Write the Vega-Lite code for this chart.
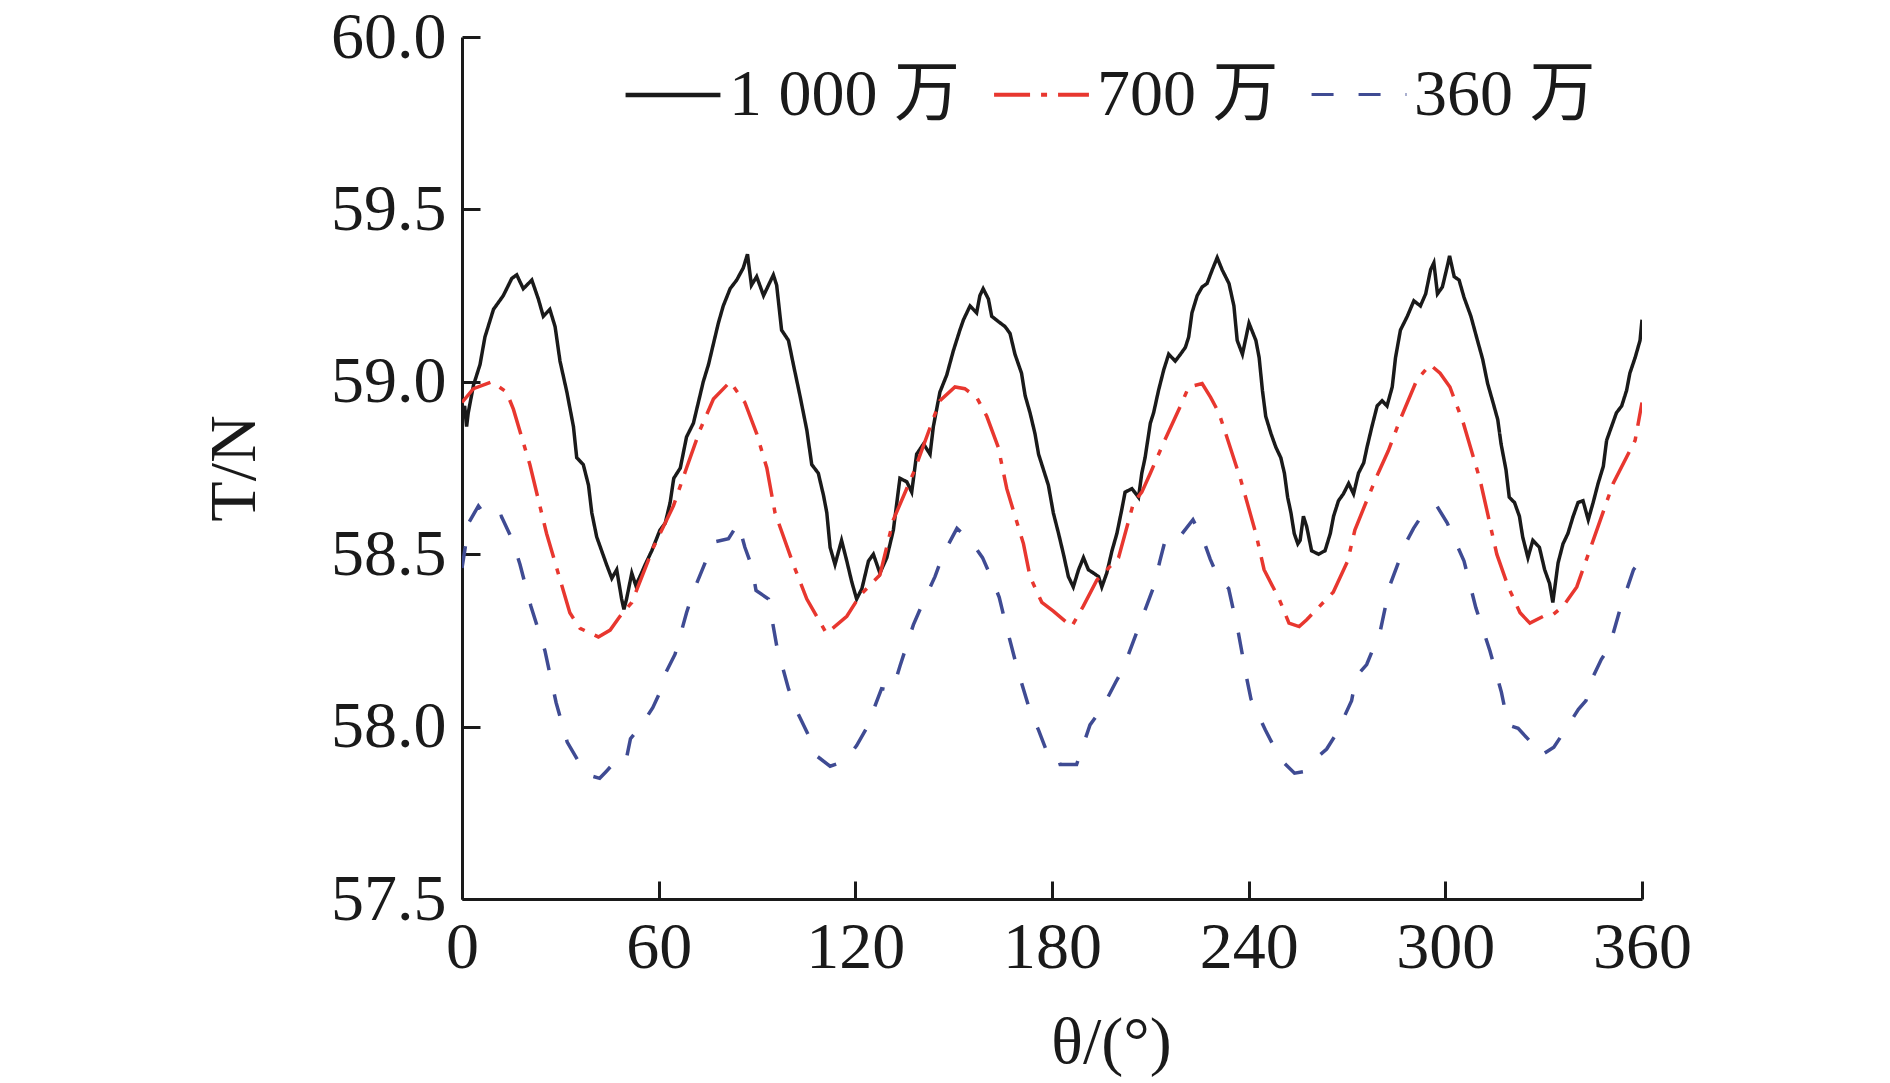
{
  "$schema": "https://vega.github.io/schema/vega-lite/v6.json",
  "autosize": {"type": "none"},
  "width": 1180,
  "height": 862,
  "padding": {"left": 462, "top": 37, "right": 248, "bottom": 184},
  "background": "white",
  "config": {
    "view": {"stroke": null},
    "font": "Liberation Serif",
    "axis": {
      "domainColor": "#1a1a1a",
      "domainWidth": 3,
      "tickColor": "#1a1a1a",
      "tickWidth": 3,
      "tickSize": -18,
      "grid": false,
      "labelFlush": false,
      "labelOverlap": false,
      "labelFont": "Liberation Serif",
      "labelFontSize": 66,
      "labelColor": "#1a1a1a",
      "titleFont": "Liberation Serif",
      "titleFontSize": 66,
      "titleFontWeight": "normal",
      "titleColor": "#1a1a1a"
    },
    "legend": {
      "labelFont": "Liberation Serif, Noto Sans CJK SC",
      "labelFontSize": 66,
      "labelColor": "#1a1a1a",
      "labelLimit": 600
    }
  },
  "data": {
    "values": [
      {"series": "1 000 万", "theta": 0, "T": 58.89},
      {"series": "1 000 万", "theta": 0.8, "T": 58.93},
      {"series": "1 000 万", "theta": 1.4, "T": 58.87},
      {"series": "1 000 万", "theta": 1.9, "T": 58.91},
      {"series": "1 000 万", "theta": 3.5, "T": 58.99},
      {"series": "1 000 万", "theta": 5.5, "T": 59.05},
      {"series": "1 000 万", "theta": 7.0, "T": 59.13},
      {"series": "1 000 万", "theta": 9.6, "T": 59.21},
      {"series": "1 000 万", "theta": 12.6, "T": 59.25},
      {"series": "1 000 万", "theta": 15.2, "T": 59.30},
      {"series": "1 000 万", "theta": 16.7, "T": 59.31},
      {"series": "1 000 万", "theta": 18.7, "T": 59.27},
      {"series": "1 000 万", "theta": 21.3, "T": 59.295},
      {"series": "1 000 万", "theta": 23.3, "T": 59.24},
      {"series": "1 000 万", "theta": 24.8, "T": 59.19},
      {"series": "1 000 万", "theta": 26.8, "T": 59.21},
      {"series": "1 000 万", "theta": 28.4, "T": 59.16},
      {"series": "1 000 万", "theta": 29.9, "T": 59.06},
      {"series": "1 000 万", "theta": 32.0, "T": 58.97},
      {"series": "1 000 万", "theta": 34.0, "T": 58.87},
      {"series": "1 000 万", "theta": 35.0, "T": 58.78},
      {"series": "1 000 万", "theta": 37.0, "T": 58.76},
      {"series": "1 000 万", "theta": 38.6, "T": 58.70},
      {"series": "1 000 万", "theta": 39.6, "T": 58.62},
      {"series": "1 000 万", "theta": 41.1, "T": 58.55},
      {"series": "1 000 万", "theta": 42.6, "T": 58.51},
      {"series": "1 000 万", "theta": 44.1, "T": 58.47},
      {"series": "1 000 万", "theta": 45.7, "T": 58.43},
      {"series": "1 000 万", "theta": 47.2, "T": 58.455},
      {"series": "1 000 万", "theta": 48.7, "T": 58.37},
      {"series": "1 000 万", "theta": 49.4, "T": 58.34},
      {"series": "1 000 万", "theta": 50.2, "T": 58.37},
      {"series": "1 000 万", "theta": 51.8, "T": 58.445},
      {"series": "1 000 万", "theta": 53.0, "T": 58.41},
      {"series": "1 000 万", "theta": 54.3, "T": 58.435},
      {"series": "1 000 万", "theta": 55.9, "T": 58.47},
      {"series": "1 000 万", "theta": 57.9, "T": 58.51},
      {"series": "1 000 万", "theta": 60.4, "T": 58.57},
      {"series": "1 000 万", "theta": 62.0, "T": 58.59},
      {"series": "1 000 万", "theta": 63.5, "T": 58.65},
      {"series": "1 000 万", "theta": 64.6, "T": 58.72},
      {"series": "1 000 万", "theta": 66.6, "T": 58.75},
      {"series": "1 000 万", "theta": 68.5, "T": 58.84},
      {"series": "1 000 万", "theta": 70.6, "T": 58.88},
      {"series": "1 000 万", "theta": 72.1, "T": 58.94},
      {"series": "1 000 万", "theta": 73.6, "T": 59.00},
      {"series": "1 000 万", "theta": 75.2, "T": 59.05},
      {"series": "1 000 万", "theta": 76.7, "T": 59.11},
      {"series": "1 000 万", "theta": 78.2, "T": 59.17},
      {"series": "1 000 万", "theta": 79.7, "T": 59.22},
      {"series": "1 000 万", "theta": 81.8, "T": 59.27},
      {"series": "1 000 万", "theta": 83.8, "T": 59.295},
      {"series": "1 000 万", "theta": 85.8, "T": 59.33},
      {"series": "1 000 万", "theta": 87.1, "T": 59.37},
      {"series": "1 000 万", "theta": 88.3, "T": 59.28},
      {"series": "1 000 万", "theta": 89.9, "T": 59.305},
      {"series": "1 000 万", "theta": 92.0, "T": 59.25},
      {"series": "1 000 万", "theta": 93.5, "T": 59.28},
      {"series": "1 000 万", "theta": 95.0, "T": 59.31},
      {"series": "1 000 万", "theta": 96.0, "T": 59.28},
      {"series": "1 000 万", "theta": 97.5, "T": 59.15},
      {"series": "1 000 万", "theta": 99.6, "T": 59.12},
      {"series": "1 000 万", "theta": 101.1, "T": 59.05},
      {"series": "1 000 万", "theta": 103.1, "T": 58.96},
      {"series": "1 000 万", "theta": 105.2, "T": 58.86},
      {"series": "1 000 万", "theta": 106.7, "T": 58.76},
      {"series": "1 000 万", "theta": 108.7, "T": 58.735},
      {"series": "1 000 万", "theta": 110.3, "T": 58.67},
      {"series": "1 000 万", "theta": 111.3, "T": 58.62},
      {"series": "1 000 万", "theta": 112.3, "T": 58.52},
      {"series": "1 000 万", "theta": 113.8, "T": 58.47},
      {"series": "1 000 万", "theta": 115.8, "T": 58.54},
      {"series": "1 000 万", "theta": 117.4, "T": 58.48},
      {"series": "1 000 万", "theta": 118.9, "T": 58.42},
      {"series": "1 000 万", "theta": 120.4, "T": 58.37},
      {"series": "1 000 万", "theta": 122.0, "T": 58.40},
      {"series": "1 000 万", "theta": 124.0, "T": 58.48},
      {"series": "1 000 万", "theta": 125.5, "T": 58.50},
      {"series": "1 000 万", "theta": 127.5, "T": 58.445},
      {"series": "1 000 万", "theta": 129.6, "T": 58.49},
      {"series": "1 000 万", "theta": 131.6, "T": 58.57},
      {"series": "1 000 万", "theta": 133.6, "T": 58.72},
      {"series": "1 000 万", "theta": 135.7, "T": 58.71},
      {"series": "1 000 万", "theta": 137.2, "T": 58.68},
      {"series": "1 000 万", "theta": 138.7, "T": 58.79},
      {"series": "1 000 万", "theta": 140.8, "T": 58.82},
      {"series": "1 000 万", "theta": 142.8, "T": 58.79},
      {"series": "1 000 万", "theta": 143.8, "T": 58.87},
      {"series": "1 000 万", "theta": 145.8, "T": 58.97},
      {"series": "1 000 万", "theta": 147.9, "T": 59.02},
      {"series": "1 000 万", "theta": 149.9, "T": 59.09},
      {"series": "1 000 万", "theta": 151.9, "T": 59.15},
      {"series": "1 000 万", "theta": 153.0, "T": 59.18},
      {"series": "1 000 万", "theta": 155.0, "T": 59.22},
      {"series": "1 000 万", "theta": 157.0, "T": 59.20},
      {"series": "1 000 万", "theta": 158.0, "T": 59.25},
      {"series": "1 000 万", "theta": 159.0, "T": 59.27},
      {"series": "1 000 万", "theta": 160.6, "T": 59.24},
      {"series": "1 000 万", "theta": 161.6, "T": 59.19},
      {"series": "1 000 万", "theta": 163.6, "T": 59.175},
      {"series": "1 000 万", "theta": 165.7, "T": 59.16},
      {"series": "1 000 万", "theta": 167.2, "T": 59.14},
      {"series": "1 000 万", "theta": 168.7, "T": 59.08},
      {"series": "1 000 万", "theta": 170.7, "T": 59.025},
      {"series": "1 000 万", "theta": 171.8, "T": 58.96},
      {"series": "1 000 万", "theta": 173.3, "T": 58.91},
      {"series": "1 000 万", "theta": 174.8, "T": 58.85},
      {"series": "1 000 万", "theta": 175.9, "T": 58.79},
      {"series": "1 000 万", "theta": 177.4, "T": 58.745},
      {"series": "1 000 万", "theta": 178.9, "T": 58.70},
      {"series": "1 000 万", "theta": 180.4, "T": 58.62},
      {"series": "1 000 万", "theta": 182.0, "T": 58.56},
      {"series": "1 000 万", "theta": 183.5, "T": 58.50},
      {"series": "1 000 万", "theta": 185.0, "T": 58.435},
      {"series": "1 000 万", "theta": 186.5, "T": 58.405},
      {"series": "1 000 万", "theta": 188.1, "T": 58.455},
      {"series": "1 000 万", "theta": 189.6, "T": 58.49},
      {"series": "1 000 万", "theta": 191.1, "T": 58.455},
      {"series": "1 000 万", "theta": 192.7, "T": 58.445},
      {"series": "1 000 万", "theta": 194.2, "T": 58.435},
      {"series": "1 000 万", "theta": 195.2, "T": 58.405},
      {"series": "1 000 万", "theta": 196.7, "T": 58.445},
      {"series": "1 000 万", "theta": 198.3, "T": 58.51},
      {"series": "1 000 万", "theta": 199.8, "T": 58.56},
      {"series": "1 000 万", "theta": 201.3, "T": 58.63},
      {"series": "1 000 万", "theta": 202.3, "T": 58.68},
      {"series": "1 000 万", "theta": 204.4, "T": 58.69},
      {"series": "1 000 万", "theta": 206.4, "T": 58.665},
      {"series": "1 000 万", "theta": 207.4, "T": 58.735},
      {"series": "1 000 万", "theta": 208.4, "T": 58.78},
      {"series": "1 000 万", "theta": 210.0, "T": 58.88},
      {"series": "1 000 万", "theta": 211.0, "T": 58.91},
      {"series": "1 000 万", "theta": 212.5, "T": 58.975},
      {"series": "1 000 万", "theta": 214.1, "T": 59.035},
      {"series": "1 000 万", "theta": 215.6, "T": 59.08},
      {"series": "1 000 万", "theta": 217.6, "T": 59.06},
      {"series": "1 000 万", "theta": 219.2, "T": 59.08},
      {"series": "1 000 万", "theta": 220.7, "T": 59.10},
      {"series": "1 000 万", "theta": 221.7, "T": 59.13},
      {"series": "1 000 万", "theta": 222.7, "T": 59.20},
      {"series": "1 000 万", "theta": 224.3, "T": 59.25},
      {"series": "1 000 万", "theta": 225.8, "T": 59.275},
      {"series": "1 000 万", "theta": 227.3, "T": 59.285},
      {"series": "1 000 万", "theta": 228.9, "T": 59.325},
      {"series": "1 000 万", "theta": 230.4, "T": 59.36},
      {"series": "1 000 万", "theta": 231.9, "T": 59.325},
      {"series": "1 000 万", "theta": 234.0, "T": 59.285},
      {"series": "1 000 万", "theta": 235.5, "T": 59.22},
      {"series": "1 000 万", "theta": 236.5, "T": 59.12},
      {"series": "1 000 万", "theta": 238.1, "T": 59.08},
      {"series": "1 000 万", "theta": 240.1, "T": 59.17},
      {"series": "1 000 万", "theta": 242.2, "T": 59.12},
      {"series": "1 000 万", "theta": 243.2, "T": 59.07},
      {"series": "1 000 万", "theta": 244.2, "T": 58.975},
      {"series": "1 000 万", "theta": 245.2, "T": 58.90},
      {"series": "1 000 万", "theta": 246.8, "T": 58.85},
      {"series": "1 000 万", "theta": 248.3, "T": 58.81},
      {"series": "1 000 万", "theta": 249.8, "T": 58.78},
      {"series": "1 000 万", "theta": 250.9, "T": 58.735},
      {"series": "1 000 万", "theta": 251.9, "T": 58.665},
      {"series": "1 000 万", "theta": 252.9, "T": 58.62},
      {"series": "1 000 万", "theta": 253.9, "T": 58.56},
      {"series": "1 000 万", "theta": 255.0, "T": 58.53},
      {"series": "1 000 万", "theta": 255.7, "T": 58.54},
      {"series": "1 000 万", "theta": 256.7, "T": 58.61},
      {"series": "1 000 万", "theta": 257.7, "T": 58.58},
      {"series": "1 000 万", "theta": 259.2, "T": 58.51},
      {"series": "1 000 万", "theta": 261.3, "T": 58.50},
      {"series": "1 000 万", "theta": 263.3, "T": 58.51},
      {"series": "1 000 万", "theta": 264.9, "T": 58.56},
      {"series": "1 000 万", "theta": 265.9, "T": 58.61},
      {"series": "1 000 万", "theta": 267.4, "T": 58.655},
      {"series": "1 000 万", "theta": 268.9, "T": 58.675},
      {"series": "1 000 万", "theta": 270.5, "T": 58.705},
      {"series": "1 000 万", "theta": 272.0, "T": 58.675},
      {"series": "1 000 万", "theta": 273.5, "T": 58.735},
      {"series": "1 000 万", "theta": 275.1, "T": 58.765},
      {"series": "1 000 万", "theta": 276.1, "T": 58.81},
      {"series": "1 000 万", "theta": 277.6, "T": 58.87},
      {"series": "1 000 万", "theta": 279.2, "T": 58.93},
      {"series": "1 000 万", "theta": 280.7, "T": 58.945},
      {"series": "1 000 万", "theta": 282.2, "T": 58.93},
      {"series": "1 000 万", "theta": 283.8, "T": 58.985},
      {"series": "1 000 万", "theta": 284.8, "T": 59.07},
      {"series": "1 000 万", "theta": 286.3, "T": 59.15},
      {"series": "1 000 万", "theta": 288.4, "T": 59.19},
      {"series": "1 000 万", "theta": 290.4, "T": 59.235},
      {"series": "1 000 万", "theta": 292.4, "T": 59.22},
      {"series": "1 000 万", "theta": 294.0, "T": 59.255},
      {"series": "1 000 万", "theta": 295.5, "T": 59.325},
      {"series": "1 000 万", "theta": 296.5, "T": 59.345},
      {"series": "1 000 万", "theta": 297.6, "T": 59.255},
      {"series": "1 000 万", "theta": 299.1, "T": 59.275},
      {"series": "1 000 万", "theta": 300.6, "T": 59.335},
      {"series": "1 000 万", "theta": 301.3, "T": 59.365},
      {"series": "1 000 万", "theta": 302.7, "T": 59.305},
      {"series": "1 000 万", "theta": 304.2, "T": 59.295},
      {"series": "1 000 万", "theta": 305.7, "T": 59.245},
      {"series": "1 000 万", "theta": 307.8, "T": 59.19},
      {"series": "1 000 万", "theta": 309.8, "T": 59.12},
      {"series": "1 000 万", "theta": 311.4, "T": 59.065},
      {"series": "1 000 万", "theta": 312.9, "T": 58.995},
      {"series": "1 000 万", "theta": 314.4, "T": 58.945},
      {"series": "1 000 万", "theta": 316.0, "T": 58.89},
      {"series": "1 000 万", "theta": 317.0, "T": 58.82},
      {"series": "1 000 万", "theta": 318.5, "T": 58.745},
      {"series": "1 000 万", "theta": 319.5, "T": 58.665},
      {"series": "1 000 万", "theta": 321.1, "T": 58.65},
      {"series": "1 000 万", "theta": 322.6, "T": 58.61},
      {"series": "1 000 万", "theta": 323.6, "T": 58.55},
      {"series": "1 000 万", "theta": 325.2, "T": 58.49},
      {"series": "1 000 万", "theta": 326.7, "T": 58.54},
      {"series": "1 000 万", "theta": 328.7, "T": 58.52},
      {"series": "1 000 万", "theta": 330.3, "T": 58.455},
      {"series": "1 000 万", "theta": 331.8, "T": 58.415},
      {"series": "1 000 万", "theta": 332.8, "T": 58.36},
      {"series": "1 000 万", "theta": 334.4, "T": 58.475},
      {"series": "1 000 万", "theta": 335.9, "T": 58.53},
      {"series": "1 000 万", "theta": 337.4, "T": 58.56},
      {"series": "1 000 万", "theta": 339.0, "T": 58.61},
      {"series": "1 000 万", "theta": 340.5, "T": 58.65},
      {"series": "1 000 万", "theta": 342.0, "T": 58.655},
      {"series": "1 000 万", "theta": 343.6, "T": 58.60},
      {"series": "1 000 万", "theta": 345.1, "T": 58.65},
      {"series": "1 000 万", "theta": 346.6, "T": 58.705},
      {"series": "1 000 万", "theta": 348.2, "T": 58.755},
      {"series": "1 000 万", "theta": 349.2, "T": 58.83},
      {"series": "1 000 万", "theta": 350.7, "T": 58.87},
      {"series": "1 000 万", "theta": 352.2, "T": 58.91},
      {"series": "1 000 万", "theta": 353.8, "T": 58.93},
      {"series": "1 000 万", "theta": 355.3, "T": 58.975},
      {"series": "1 000 万", "theta": 356.3, "T": 59.025},
      {"series": "1 000 万", "theta": 357.9, "T": 59.07},
      {"series": "1 000 万", "theta": 359.4, "T": 59.12},
      {"series": "1 000 万", "theta": 360, "T": 59.18},

      {"series": "700 万", "theta": 0, "T": 58.94},
      {"series": "700 万", "theta": 3.5, "T": 58.98},
      {"series": "700 万", "theta": 9.1, "T": 59.0},
      {"series": "700 万", "theta": 13.6, "T": 58.97},
      {"series": "700 万", "theta": 15.7, "T": 58.92},
      {"series": "700 万", "theta": 20.7, "T": 58.76},
      {"series": "700 万", "theta": 25.8, "T": 58.56},
      {"series": "700 万", "theta": 32.9, "T": 58.33},
      {"series": "700 万", "theta": 36.0, "T": 58.285},
      {"series": "700 万", "theta": 41.6, "T": 58.26},
      {"series": "700 万", "theta": 45.2, "T": 58.28},
      {"series": "700 万", "theta": 48.2, "T": 58.32},
      {"series": "700 万", "theta": 51.8, "T": 58.36},
      {"series": "700 万", "theta": 58.4, "T": 58.52},
      {"series": "700 万", "theta": 64.5, "T": 58.64},
      {"series": "700 万", "theta": 68.5, "T": 58.75},
      {"series": "700 万", "theta": 72.6, "T": 58.86},
      {"series": "700 万", "theta": 76.7, "T": 58.95},
      {"series": "700 万", "theta": 81.8, "T": 59.0},
      {"series": "700 万", "theta": 86.3, "T": 58.94},
      {"series": "700 万", "theta": 89.9, "T": 58.85},
      {"series": "700 万", "theta": 93.0, "T": 58.75},
      {"series": "700 万", "theta": 95.5, "T": 58.62},
      {"series": "700 万", "theta": 101.1, "T": 58.47},
      {"series": "700 万", "theta": 105.2, "T": 58.37},
      {"series": "700 万", "theta": 111.2, "T": 58.27},
      {"series": "700 万", "theta": 117.4, "T": 58.32},
      {"series": "700 万", "theta": 121.4, "T": 58.38},
      {"series": "700 万", "theta": 127.5, "T": 58.44},
      {"series": "700 万", "theta": 131.6, "T": 58.60},
      {"series": "700 万", "theta": 137.7, "T": 58.735},
      {"series": "700 万", "theta": 145.8, "T": 58.945},
      {"series": "700 万", "theta": 150.4, "T": 58.985},
      {"series": "700 万", "theta": 153.4, "T": 58.98},
      {"series": "700 万", "theta": 157.0, "T": 58.955},
      {"series": "700 万", "theta": 160.1, "T": 58.90},
      {"series": "700 万", "theta": 163.6, "T": 58.81},
      {"series": "700 万", "theta": 166.2, "T": 58.69},
      {"series": "700 万", "theta": 171.3, "T": 58.53},
      {"series": "700 万", "theta": 173.3, "T": 58.435},
      {"series": "700 万", "theta": 176.9, "T": 58.36},
      {"series": "700 万", "theta": 180.4, "T": 58.335},
      {"series": "700 万", "theta": 186.0, "T": 58.29},
      {"series": "700 万", "theta": 189.6, "T": 58.35},
      {"series": "700 万", "theta": 193.7, "T": 58.425},
      {"series": "700 万", "theta": 200.3, "T": 58.49},
      {"series": "700 万", "theta": 204.9, "T": 58.65},
      {"series": "700 万", "theta": 207.4, "T": 58.68},
      {"series": "700 万", "theta": 210.0, "T": 58.735},
      {"series": "700 万", "theta": 214.6, "T": 58.835},
      {"series": "700 万", "theta": 219.2, "T": 58.93},
      {"series": "700 万", "theta": 221.7, "T": 58.985},
      {"series": "700 万", "theta": 225.8, "T": 58.995},
      {"series": "700 万", "theta": 228.4, "T": 58.955},
      {"series": "700 万", "theta": 230.9, "T": 58.91},
      {"series": "700 万", "theta": 233.0, "T": 58.85},
      {"series": "700 万", "theta": 237.6, "T": 58.715},
      {"series": "700 万", "theta": 242.2, "T": 58.56},
      {"series": "700 万", "theta": 244.7, "T": 58.455},
      {"series": "700 万", "theta": 249.3, "T": 58.37},
      {"series": "700 万", "theta": 252.3, "T": 58.30},
      {"series": "700 万", "theta": 255.4, "T": 58.29},
      {"series": "700 万", "theta": 257.7, "T": 58.31},
      {"series": "700 万", "theta": 265.8, "T": 58.39},
      {"series": "700 万", "theta": 270.2, "T": 58.48},
      {"series": "700 万", "theta": 272.4, "T": 58.57},
      {"series": "700 万", "theta": 276.0, "T": 58.655},
      {"series": "700 万", "theta": 279.5, "T": 58.735},
      {"series": "700 万", "theta": 282.6, "T": 58.80},
      {"series": "700 万", "theta": 286.2, "T": 58.89},
      {"series": "700 万", "theta": 291.3, "T": 59.005},
      {"series": "700 万", "theta": 295.3, "T": 59.05},
      {"series": "700 万", "theta": 298.4, "T": 59.025},
      {"series": "700 万", "theta": 301.4, "T": 58.985},
      {"series": "700 万", "theta": 305.5, "T": 58.88},
      {"series": "700 万", "theta": 310.6, "T": 58.715},
      {"series": "700 万", "theta": 315.7, "T": 58.50},
      {"series": "700 万", "theta": 319.2, "T": 58.405},
      {"series": "700 万", "theta": 322.8, "T": 58.33},
      {"series": "700 万", "theta": 325.8, "T": 58.30},
      {"series": "700 万", "theta": 329.9, "T": 58.32},
      {"series": "700 万", "theta": 332.9, "T": 58.325},
      {"series": "700 万", "theta": 336.0, "T": 58.35},
      {"series": "700 万", "theta": 340.1, "T": 58.405},
      {"series": "700 万", "theta": 345.1, "T": 58.54},
      {"series": "700 万", "theta": 351.2, "T": 58.705},
      {"series": "700 万", "theta": 357.9, "T": 58.83},
      {"series": "700 万", "theta": 360, "T": 58.94},

      {"series": "360 万", "theta": 0, "T": 58.46},
      {"series": "360 万", "theta": 1.0, "T": 58.52},
      {"series": "360 万", "theta": 2.0, "T": 58.59},
      {"series": "360 万", "theta": 5.0, "T": 58.64},
      {"series": "360 万", "theta": 8.0, "T": 58.60},
      {"series": "360 万", "theta": 12.0, "T": 58.61},
      {"series": "360 万", "theta": 15.2, "T": 58.545},
      {"series": "360 万", "theta": 17.7, "T": 58.47},
      {"series": "360 万", "theta": 21.0, "T": 58.35},
      {"series": "360 万", "theta": 25.3, "T": 58.22},
      {"series": "360 万", "theta": 28.7, "T": 58.07},
      {"series": "360 万", "theta": 32.1, "T": 57.955},
      {"series": "360 万", "theta": 35.5, "T": 57.90},
      {"series": "360 万", "theta": 38.3, "T": 57.86},
      {"series": "360 万", "theta": 42.0, "T": 57.85},
      {"series": "360 万", "theta": 44.0, "T": 57.87},
      {"series": "360 万", "theta": 47.4, "T": 57.905},
      {"series": "360 万", "theta": 50.0, "T": 57.90},
      {"series": "360 万", "theta": 51.4, "T": 57.965},
      {"series": "360 万", "theta": 54.8, "T": 58.005},
      {"series": "360 万", "theta": 58.2, "T": 58.055},
      {"series": "360 万", "theta": 60.4, "T": 58.10},
      {"series": "360 万", "theta": 62.1, "T": 58.155},
      {"series": "360 万", "theta": 65.0, "T": 58.21},
      {"series": "360 万", "theta": 68.5, "T": 58.33},
      {"series": "360 万", "theta": 70.5, "T": 58.39},
      {"series": "360 万", "theta": 73.1, "T": 58.45},
      {"series": "360 万", "theta": 76.7, "T": 58.535},
      {"series": "360 万", "theta": 81.3, "T": 58.545},
      {"series": "360 万", "theta": 84.3, "T": 58.59},
      {"series": "360 万", "theta": 86.3, "T": 58.52},
      {"series": "360 万", "theta": 88.4, "T": 58.465},
      {"series": "360 万", "theta": 89.7, "T": 58.395},
      {"series": "360 万", "theta": 93.5, "T": 58.37},
      {"series": "360 万", "theta": 96.0, "T": 58.235},
      {"series": "360 万", "theta": 99.6, "T": 58.11},
      {"series": "360 万", "theta": 101.9, "T": 58.05},
      {"series": "360 万", "theta": 105.7, "T": 57.975},
      {"series": "360 万", "theta": 108.2, "T": 57.915},
      {"series": "360 万", "theta": 112.3, "T": 57.885},
      {"series": "360 万", "theta": 116.8, "T": 57.90},
      {"series": "360 万", "theta": 120.4, "T": 57.945},
      {"series": "360 万", "theta": 123.7, "T": 58.00},
      {"series": "360 万", "theta": 126.0, "T": 58.06},
      {"series": "360 万", "theta": 128.0, "T": 58.11},
      {"series": "360 万", "theta": 131.4, "T": 58.105},
      {"series": "360 万", "theta": 133.6, "T": 58.175},
      {"series": "360 万", "theta": 137.7, "T": 58.295},
      {"series": "360 万", "theta": 140.2, "T": 58.35},
      {"series": "360 万", "theta": 144.3, "T": 58.435},
      {"series": "360 万", "theta": 146.8, "T": 58.50},
      {"series": "360 万", "theta": 151.0, "T": 58.575},
      {"series": "360 万", "theta": 155.5, "T": 58.535},
      {"series": "360 万", "theta": 158.8, "T": 58.49},
      {"series": "360 万", "theta": 161.6, "T": 58.43},
      {"series": "360 万", "theta": 163.9, "T": 58.375},
      {"series": "360 万", "theta": 165.8, "T": 58.30},
      {"series": "360 万", "theta": 169.5, "T": 58.165},
      {"series": "360 万", "theta": 173.3, "T": 58.045},
      {"series": "360 万", "theta": 175.9, "T": 57.99},
      {"series": "360 万", "theta": 178.3, "T": 57.93},
      {"series": "360 万", "theta": 181.2, "T": 57.93},
      {"series": "360 万", "theta": 182.5, "T": 57.89},
      {"series": "360 万", "theta": 187.5, "T": 57.89},
      {"series": "360 万", "theta": 191.6, "T": 58.005},
      {"series": "360 万", "theta": 195.4, "T": 58.055},
      {"series": "360 万", "theta": 199.5, "T": 58.13},
      {"series": "360 万", "theta": 201.8, "T": 58.17},
      {"series": "360 万", "theta": 206.5, "T": 58.29},
      {"series": "360 万", "theta": 211.2, "T": 58.41},
      {"series": "360 万", "theta": 212.9, "T": 58.48},
      {"series": "360 万", "theta": 214.8, "T": 58.55},
      {"series": "360 万", "theta": 218.9, "T": 58.55},
      {"series": "360 万", "theta": 223.0, "T": 58.60},
      {"series": "360 万", "theta": 226.2, "T": 58.54},
      {"series": "360 万", "theta": 228.3, "T": 58.485},
      {"series": "360 万", "theta": 230.6, "T": 58.435},
      {"series": "360 万", "theta": 233.9, "T": 58.40},
      {"series": "360 万", "theta": 236.9, "T": 58.27},
      {"series": "360 万", "theta": 239.3, "T": 58.145},
      {"series": "360 万", "theta": 240.7, "T": 58.08},
      {"series": "360 万", "theta": 245.1, "T": 57.99},
      {"series": "360 万", "theta": 249.7, "T": 57.905},
      {"series": "360 万", "theta": 254.0, "T": 57.865},
      {"series": "360 万", "theta": 257.0, "T": 57.87},
      {"series": "360 万", "theta": 260.8, "T": 57.91},
      {"series": "360 万", "theta": 263.8, "T": 57.935},
      {"series": "360 万", "theta": 266.8, "T": 57.98},
      {"series": "360 万", "theta": 271.4, "T": 58.075},
      {"series": "360 万", "theta": 272.8, "T": 58.145},
      {"series": "360 万", "theta": 276.0, "T": 58.18},
      {"series": "360 万", "theta": 280.1, "T": 58.275},
      {"series": "360 万", "theta": 283.1, "T": 58.41},
      {"series": "360 万", "theta": 287.8, "T": 58.53},
      {"series": "360 万", "theta": 290.3, "T": 58.575},
      {"series": "360 万", "theta": 293.4, "T": 58.62},
      {"series": "360 万", "theta": 297.4, "T": 58.64},
      {"series": "360 万", "theta": 300.6, "T": 58.59},
      {"series": "360 万", "theta": 305.7, "T": 58.48},
      {"series": "360 万", "theta": 309.3, "T": 58.345},
      {"series": "360 万", "theta": 313.6, "T": 58.22},
      {"series": "360 万", "theta": 317.1, "T": 58.10},
      {"series": "360 万", "theta": 318.4, "T": 58.04},
      {"series": "360 万", "theta": 319.1, "T": 58.005},
      {"series": "360 万", "theta": 322.2, "T": 57.995},
      {"series": "360 万", "theta": 325.6, "T": 57.96},
      {"series": "360 万", "theta": 329.0, "T": 57.915},
      {"series": "360 万", "theta": 333.1, "T": 57.94},
      {"series": "360 万", "theta": 336.2, "T": 57.985},
      {"series": "360 万", "theta": 340.6, "T": 58.05},
      {"series": "360 万", "theta": 342.9, "T": 58.075},
      {"series": "360 万", "theta": 344.6, "T": 58.135},
      {"series": "360 万", "theta": 347.6, "T": 58.195},
      {"series": "360 万", "theta": 350.0, "T": 58.23},
      {"series": "360 万", "theta": 353.3, "T": 58.34},
      {"series": "360 万", "theta": 357.4, "T": 58.455},
      {"series": "360 万", "theta": 359.4, "T": 58.48},
      {"series": "360 万", "theta": 360, "T": 58.46}
    ]
  },
  "mark": {"type": "line", "strokeWidth": 3.5, "clip": true},
  "encoding": {
    "x": {
      "field": "theta",
      "type": "quantitative",
      "scale": {"domain": [0, 360], "nice": false, "zero": false},
      "axis": {
        "title": "θ/(°)",
        "values": [0, 60, 120, 180, 240, 300, 360],
        "labelPadding": 34,
        "titlePadding": 30,
        "titleX": 649
      }
    },
    "y": {
      "field": "T",
      "type": "quantitative",
      "scale": {"domain": [57.5, 60], "nice": false, "zero": false},
      "axis": {
        "title": "T/N",
        "values": [57.5, 58, 58.5, 59, 59.5, 60],
        "format": ".1f",
        "labelPadding": 34,
        "titlePadding": 62
      }
    },
    "strokeWidth": {
      "field": "series",
      "type": "nominal",
      "scale": {
        "domain": ["1 000 万", "700 万", "360 万"],
        "range": [4.6, 3, 3]
      },
      "legend": null
    },
    "color": {
      "field": "series",
      "type": "nominal",
      "scale": {
        "domain": ["1 000 万", "700 万", "360 万"],
        "range": ["#1a1a1a", "#e8372f", "#3f4b93"]
      },
      "legend": {
        "title": null,
        "orient": "none",
        "direction": "horizontal",
        "legendX": 161,
        "legendY": 8,
        "symbolType": "stroke",
        "symbolSize": 9000,
        "symbolStrokeWidth": 3.5,
        "labelOffset": 6,
        "columnPadding": 26
      }
    },
    "strokeDash": {
      "field": "series",
      "type": "nominal",
      "scale": {
        "domain": ["1 000 万", "700 万", "360 万"],
        "range": [[1, 0], [36, 11, 6, 11], [22, 25]]
      },
      "legend": null
    }
  }
}
